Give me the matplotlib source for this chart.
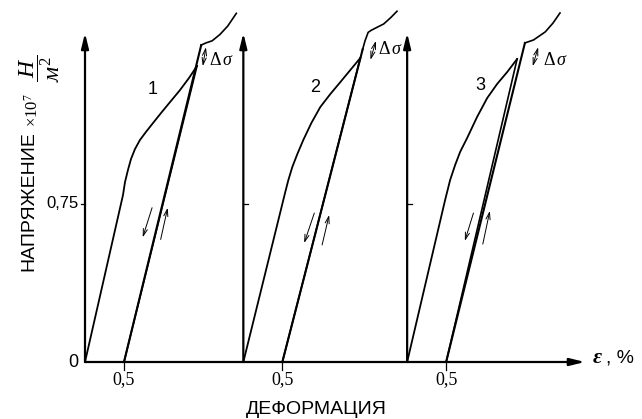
import numpy as np
import matplotlib
matplotlib.use("Agg")
import matplotlib.pyplot as plt

plt.rcParams["mathtext.fontset"] = "custom"
plt.rcParams["mathtext.rm"] = "Liberation Serif"
plt.rcParams["mathtext.it"] = "Liberation Serif:italic"
plt.rcParams["mathtext.bf"] = "Liberation Serif:bold"

load1_eps = [0, 0.487, 0.513, 0.551, 0.590, 0.641, 0.705, 0.782, 0.872, 0.974,
             1.090, 1.218, 1.333, 1.436]
load1_sig = [0, 0.790, 0.852, 0.909, 0.961, 1.008, 1.051, 1.089, 1.131, 1.178,
             1.230, 1.287, 1.344, 1.401]
top1_eps = [1.49, 1.55, 1.63, 1.73, 1.83, 1.94]
top1_sig = [1.50, 1.51, 1.52, 1.55, 1.59, 1.65]

load2_eps = [0, 0.538, 0.577, 0.628, 0.692, 0.769, 0.872, 0.987, 1.115, 1.244,
             1.372, 1.500]
load2_sig = [0, 0.805, 0.861, 0.923, 0.984, 1.051, 1.131, 1.207, 1.268, 1.325,
             1.382, 1.439]
top2_eps = [1.53, 1.56, 1.60, 1.64, 1.72, 1.80, 1.89, 1.97]
top2_sig = [1.48, 1.52, 1.56, 1.57, 1.585, 1.60, 1.63, 1.66]

load3_eps = [0, 0.487, 0.551, 0.615, 0.679, 0.769, 0.897, 1.026, 1.154, 1.282,
             1.410]
load3_sig = [0, 0.767, 0.861, 0.932, 0.994, 1.060, 1.160, 1.249, 1.316, 1.372,
             1.434]
top3_eps = [1.51, 1.62, 1.77, 1.87, 1.96]
top3_sig = [1.51, 1.524, 1.562, 1.604, 1.652]

residual = 0.5
curve_names = ["1", "2", "3"]
y_ticks = [0, 0.75]
x_tick = 0.5

fig = plt.figure(figsize=(6.42, 4.19), dpi=100)
ax = fig.add_axes([0, 0, 1, 1])
ax.set_xlim(-85 / 78, 557 / 78)
ax.set_ylim(-57 / 211.3, 362 / 211.3)
ax.axis("off")

offsets = [0, 2.03, 4.13]
loads = [(load1_eps, load1_sig), (load2_eps, load2_sig), (load3_eps, load3_sig)]
tops = [(top1_eps, top1_sig), (top2_eps, top2_sig), (top3_eps, top3_sig)]
label_pos = [(0.87, 1.29), (0.92, 1.30), (0.94, 1.31)]
dsig_text = [(1.59, 1.43), (1.73, 1.48), (1.74, 1.43)]
dsig_arrow = [((1.55, 1.49), (1.51, 1.40)), ((1.70, 1.52), (1.63, 1.43)),
              ((1.68, 1.49), (1.61, 1.40))]
down_arrow = [((0.86, 0.73), (0.74, 0.59)), ((0.91, 0.705), (0.78, 0.563)),
              ((0.85, 0.705), (0.74, 0.573))]
up_arrow = [((0.97, 0.58), (1.06, 0.73)), ((1.01, 0.554), (1.10, 0.696)),
            ((0.97, 0.558), (1.06, 0.715))]

axis_arrow = dict(arrowstyle="-|>,head_length=0.9,head_width=0.22", lw=1.6,
                  color="black", shrinkA=0, shrinkB=0)
thin = dict(arrowstyle="->,head_length=0.5,head_width=0.15", lw=0.7,
            color="black", shrinkA=0, shrinkB=0)
thin2 = dict(arrowstyle="<->,head_length=0.5,head_width=0.15", lw=0.7,
             color="black", shrinkA=0, shrinkB=0)

# horizontal axis
ax.annotate("", xy=(6.41, 0), xytext=(0, 0), arrowprops=axis_arrow)

for i, off in enumerate(offsets):
    le, ls = loads[i]
    te, ts = tops[i]
    ax.annotate("", xy=(off, 1.557), xytext=(off, 0), arrowprops=axis_arrow)
    # loading
    ax.plot(off + np.array(le), ls, color="black", lw=1.3, solid_joinstyle="round")
    # unloading
    ax.plot([off + le[-1], off + residual], [ls[-1], 0], color="black", lw=1.2)
    # reloading and continued loading
    ax.plot([off + residual, off + te[0]], [0, ts[0]], color="black", lw=1.5)
    ax.plot(off + np.array(te), ts, color="black", lw=1.2, solid_joinstyle="round")

    ax.plot([off + x_tick] * 2, [0, -0.038], color="black", lw=0.9)
    ax.text(off + x_tick, -0.085, "0,5", ha="center", va="center",
            fontsize=13, family="Liberation Serif")
    if i == 0:
        ax.plot([off - 0.05, off], [y_ticks[1]] * 2, color="black", lw=0.9)
    else:
        ax.plot([off, off + 0.06], [y_ticks[1]] * 2, color="black", lw=0.9)

    ax.text(off + label_pos[i][0], label_pos[i][1], curve_names[i], ha="center",
            va="center", fontsize=13, family="Liberation Sans")
    ax.text(off + dsig_text[i][0], dsig_text[i][1], r"$\Delta\,\sigma$",
            ha="left", va="center", fontsize=13)
    a, b = dsig_arrow[i]
    ax.annotate("", xy=(off + b[0], b[1]), xytext=(off + a[0], a[1]), arrowprops=thin2)
    a, b = down_arrow[i]
    ax.annotate("", xy=(off + b[0], b[1]), xytext=(off + a[0], a[1]), arrowprops=thin)
    a, b = up_arrow[i]
    ax.annotate("", xy=(off + b[0], b[1]), xytext=(off + a[0], a[1]), arrowprops=thin)

ax.text(-0.09, 0, "0", ha="right", va="center", fontsize=13, family="Liberation Sans")
ax.text(-0.08, 0.75, "0,75", ha="right", va="center", fontsize=12,
        family="Liberation Sans")

ax.text(-0.72, 0.76, "НАПРЯЖЕНИЕ", rotation=90, ha="center", va="center",
        fontsize=14, family="Liberation Sans")
ax.text(-0.673, 1.19, r"$\times10^7$", rotation=90, ha="center",
        va="center", fontsize=12)
ax.text(-0.58, 1.39, r"$\dfrac{H}{м^2}$", rotation=90, ha="center",
        va="center", fontsize=17)

ax.text(2.97, -0.227, "ДЕФОРМАЦИЯ", ha="center", va="center", fontsize=14,
        family="Liberation Sans")
ax.text(6.57, 0.02, "ε", ha="center", va="center", fontsize=16,
        family="Liberation Serif", style="italic", weight="bold")
ax.text(6.68, 0.02, ", %", ha="left", va="center", fontsize=14,
        family="Liberation Sans")

fig.savefig("out.png", dpi=100)
